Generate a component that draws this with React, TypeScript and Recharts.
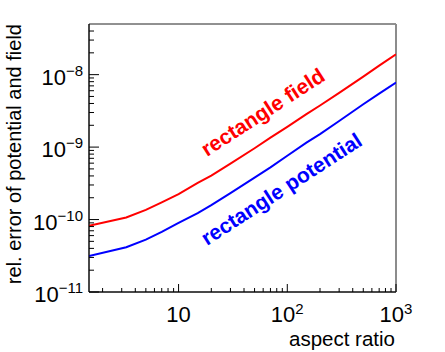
import { LineChart, Line, XAxis, YAxis, ReferenceArea, ReferenceLine, Customized } from 'recharts';

// aspect ratio of the rectangle (x) and relative errors (y)
const aspectRatio = [1.5, 3.3, 5, 7, 10, 15, 20, 30, 50, 70, 100, 150, 200, 300, 500, 700, 1000];
const fieldError = [
  8.2e-11, 1.07e-10, 1.36e-10, 1.73e-10, 2.25e-10, 3.2e-10, 4.05e-10, 5.9e-10, 9.64e-10,
  1.35e-9, 1.9e-9, 2.85e-9, 3.75e-9, 5.6e-9, 9.4e-9, 1.33e-8, 1.91e-8,
];
const potentialError = [
  3.14e-11, 4.15e-11, 5.27e-11, 6.78e-11, 9.0e-11, 1.23e-10, 1.58e-10, 2.31e-10, 3.8e-10,
  5.25e-10, 7.6e-10, 1.15e-9, 1.51e-9, 2.29e-9, 3.9e-9, 5.47e-9, 7.76e-9,
];

const xMajorTicks = [10, 100, 1000];
const xTickExponents = ['', '2', '3'];
const xMinorTicks = [2, 3, 4, 5, 6, 7, 8, 9, 20, 30, 40, 50, 60, 70, 80, 90, 200, 300, 400, 500, 600, 700, 800, 900];

const yMajorTicks = [1e-11, 1e-10, 1e-9, 1e-8];
const yTickExponents = ['\u221211', '\u221210', '\u22129', '\u22128'];
const yMinorTicks = [
  2e-11, 3e-11, 4e-11, 5e-11, 6e-11, 7e-11, 8e-11, 9e-11,
  2e-10, 3e-10, 4e-10, 5e-10, 6e-10, 7e-10, 8e-10, 9e-10,
  2e-9, 3e-9, 4e-9, 5e-9, 6e-9, 7e-9, 8e-9, 9e-9,
  2e-8, 3e-8, 4e-8,
];

const xDomain = [1.5, 1000];
const yDomain = [1e-11, 5e-8];

const data = aspectRatio.map((x, i) => ({ x, field: fieldError[i], potential: potentialError[i] }));

const FONT = '"Liberation Sans", Arial, Helvetica, sans-serif';

const majorIndex = (list: number[], v: number) =>
  list.findIndex((t) => Math.abs(Math.log10(t) - Math.log10(v)) < 1e-6);

const XTick = (props: any) => {
  const { x, y, payload } = props;
  const idx = majorIndex(xMajorTicks, payload.value);
  const major = idx >= 0;
  return (
    <g>
      <line x1={x} x2={x} y1={y} y2={y - (major ? 8 : 4)} stroke="#000" strokeWidth={1} />
      {major && (
        <text x={x} y={y + 30} textAnchor="middle" fontSize={22} fontFamily={FONT} fill="#000">
          10
          {xTickExponents[idx] && (
            <tspan dy={-8} fontSize={15}>
              {xTickExponents[idx]}
            </tspan>
          )}
        </text>
      )}
    </g>
  );
};

const YTick = (props: any) => {
  const { x, y, payload } = props;
  const idx = majorIndex(yMajorTicks, payload.value);
  const major = idx >= 0;
  return (
    <g>
      <line x1={x} x2={x + (major ? 10 : 5)} y1={y} y2={y} stroke="#000" strokeWidth={1} />
      {major && (
        <text x={x - 6} y={y + 10} textAnchor="end" fontSize={22} fontFamily={FONT} fill="#000">
          10
          <tspan dy={-9} fontSize={15}>
            {yTickExponents[idx]}
          </tspan>
        </text>
      )}
    </g>
  );
};

const Labels = () => (
  <g fontFamily={FONT}>
    <text x={395} y={346} textAnchor="end" fontSize={20.5} fill="#000">
      aspect ratio
    </text>
    <text
      transform="translate(21, 24) rotate(-90)"
      textAnchor="end"
      fontSize={20}
      fill="#000"
    >
      rel. error of potential and field
    </text>
    <text
      transform="translate(207, 157) rotate(-33)"
      fontSize={21}
      fontWeight="bold"
      fill="#ff0000"
    >
      rectangle field
    </text>
    <text
      transform="translate(207, 246) rotate(-33)"
      fontSize={21}
      fontWeight="bold"
      fill="#0000ff"
    >
      rectangle potential
    </text>
  </g>
);

export default function App() {
  return (
    <div style={{ position: 'absolute', left: 0, top: 0, width: 445, height: 352, background: '#fff' }}>
      <LineChart width={445} height={352} data={data} margin={{ top: 24, right: 49, bottom: 0, left: 0 }}>
        <XAxis
          dataKey="x"
          type="number"
          scale="log"
          domain={xDomain}
          allowDataOverflow
          ticks={[...xMinorTicks, ...xMajorTicks]}
          interval={0}
          tick={<XTick />}
          tickLine={false}
          tickSize={0}
          tickMargin={0}
          height={60}
          axisLine={{ stroke: '#000', strokeWidth: 1 }}
        />
        <YAxis
          type="number"
          scale="log"
          domain={yDomain}
          allowDataOverflow
          ticks={[...yMinorTicks, ...yMajorTicks]}
          interval={0}
          tick={<YTick />}
          tickLine={false}
          tickSize={0}
          tickMargin={0}
          width={89}
          axisLine={{ stroke: '#000', strokeWidth: 1 }}
        />
        <ReferenceArea
          x1={xDomain[0]}
          x2={xDomain[1]}
          y1={yDomain[0]}
          y2={yDomain[1]}
          fill="none"
          fillOpacity={0}
          stroke="#222"
          strokeWidth={1}
          ifOverflow="visible"
        />
        <ReferenceLine x={xDomain[1]} stroke="#8c8c8c" strokeWidth={2} ifOverflow="visible" />
        <Line
          dataKey="field"
          type="linear"
          stroke="#ff0000"
          strokeWidth={2}
          dot={false}
          isAnimationActive={false}
        />
        <Line
          dataKey="potential"
          type="linear"
          stroke="#0000ff"
          strokeWidth={2}
          dot={false}
          isAnimationActive={false}
        />
        <Customized component={Labels} />
      </LineChart>
    </div>
  );
}
